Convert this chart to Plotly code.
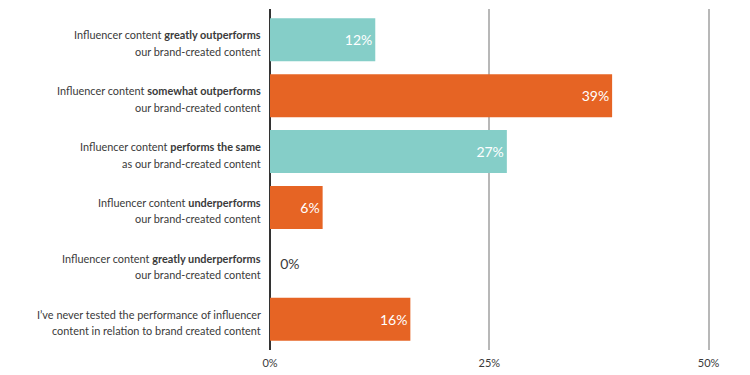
import plotly.graph_objects as go

categories = [
    "greatly outperforms",
    "somewhat outperforms",
    "performs the same",
    "underperforms",
    "greatly underperforms",
    "never tested",
]
label_line1 = [
    "Influencer content <b>greatly outperforms</b>",
    "Influencer content <b>somewhat outperforms</b>",
    "Influencer content <b>performs the same</b>",
    "Influencer content <b>underperforms</b>",
    "Influencer content <b>greatly underperforms</b>",
    "I’ve never tested the performance of influencer",
]
label_line2 = [
    "our brand-created content",
    "our brand-created content",
    "as our brand-created content",
    "our brand-created content",
    "our brand-created content",
    "content in relation to brand created content",
]
values = [12, 39, 27, 6, 0, 16]
bar_colors = ["#85CEC8", "#E66424", "#85CEC8", "#E66424", "#85CEC8", "#E66424"]
x_ticks = [0, 25, 50]
x_tick_labels = ["0%", "25%", "50%"]

text_color = "#3a3a3a"
font_family = "Lato, 'Open Sans', sans-serif"

fig = go.Figure(
    go.Bar(
        y=categories,
        x=values,
        orientation="h",
        marker=dict(color=bar_colors, line=dict(width=0)),
        width=0.77,
        text=[f"{v}%" if v > 0 else f"  {v}%" for v in values],
        textposition=["inside" if v > 0 else "outside" for v in values],
        insidetextanchor="end",
        insidetextfont=dict(color="white", size=14, family=font_family),
        outsidetextfont=dict(color=text_color, size=14, family=font_family),
        cliponaxis=False,
        hoverinfo="skip",
    )
)

for cat, l1, l2 in zip(categories, label_line1, label_line2):
    for txt, shift in ((l1, 5), (l2, -11.5)):
        fig.add_annotation(
            x=0, xref="paper", xanchor="right", xshift=-7,
            y=cat, yref="y", yanchor="middle", yshift=shift,
            text=txt, showarrow=False, align="right",
            font=dict(size=10.9, color=text_color, family=font_family),
        )

fig.update_layout(
    width=750,
    height=375,
    margin=dict(l=262, r=45, t=1, b=33),
    paper_bgcolor="white",
    plot_bgcolor="white",
    showlegend=False,
    font=dict(family=font_family, color=text_color),
    uniformtext=dict(minsize=14, mode="show"),
)

fig.update_xaxes(
    range=[0, 50.5],
    tickvals=x_ticks,
    ticktext=x_tick_labels,
    showgrid=True,
    gridcolor="#b8b8b8",
    gridwidth=1.5,
    zeroline=True,
    zerolinecolor="#333333",
    zerolinewidth=2,
    showline=False,
    tickfont=dict(size=11, color=text_color),
    ticks="outside",
    ticklen=3,
    tickcolor="rgba(0,0,0,0)",
    automargin=False,
    fixedrange=True,
)

fig.update_yaxes(
    range=[5.55, -0.55],
    showgrid=False,
    showline=False,
    zeroline=False,
    showticklabels=False,
    automargin=False,
    fixedrange=True,
)

fig.write_html("out.html")
